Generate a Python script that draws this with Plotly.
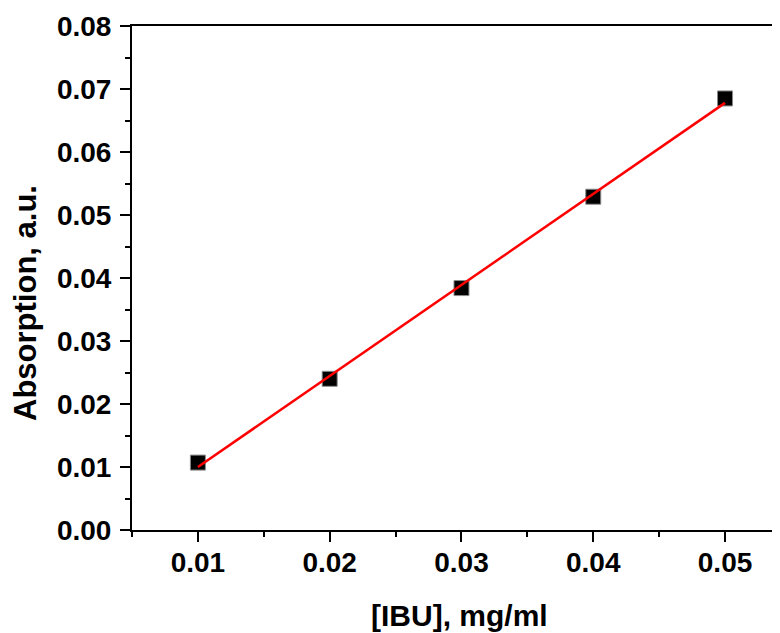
import numpy as np
import plotly.graph_objects as go

# Data
conc = [0.01, 0.02, 0.03, 0.04, 0.05]              # [IBU], mg/ml
absorb = [0.0107, 0.0240, 0.0384, 0.0529, 0.0685]  # Absorption, a.u.

x_title = "[IBU], mg/ml"
y_title = "Absorption, a.u."

# linear fit line through the measured points
slope, intercept = np.polyfit(conc, absorb, 1)
fit_x = [conc[0], conc[-1]]
fit_y = [slope * v + intercept for v in fit_x]

FONT = "Liberation Sans, Arial, sans-serif"

fig = go.Figure()
fig.add_trace(go.Scatter(
    x=conc, y=absorb, mode="markers",
    marker=dict(symbol="square", size=15, color="black",
                line=dict(color="#8a8a8a", width=1)),
    showlegend=False))
fig.add_trace(go.Scatter(
    x=fit_x, y=fit_y, mode="lines",
    line=dict(color="#ff0000", width=2.5),
    showlegend=False))

axis_common = dict(
    showgrid=False, zeroline=False,
    showline=True, linecolor="black", linewidth=2,
    ticks="outside", ticklen=10, tickwidth=2, tickcolor="black",
    tickfont=dict(family=FONT, size=28, color="black", weight="bold"),
)

fig.update_xaxes(
    range=[0.005, 0.05417], tick0=0, dtick=0.01, tickformat=".2f",
    mirror=True,
    minor=dict(tick0=0, dtick=0.005, ticks="outside", ticklen=5,
               tickwidth=2, tickcolor="black"),
    ticklabelstandoff=-4,
    **axis_common)
fig.update_yaxes(
    range=[0, 0.08], tick0=0, dtick=0.01, tickformat=".2f",
    minor=dict(tick0=0, dtick=0.005, ticks="outside", ticklen=5,
               tickwidth=2, tickcolor="black"),
    ticklabelstandoff=3,
    **axis_common)

fig.add_annotation(
    text=x_title, xref="paper", yref="paper",
    x=0.506, y=-0.1706, xanchor="center", yanchor="middle",
    showarrow=False,
    font=dict(family=FONT, size=30, color="black", weight="bold"))
fig.add_annotation(
    text=y_title, xref="paper", yref="paper",
    x=-0.1636, y=0.4504, xanchor="center", yanchor="middle",
    textangle=-90, showarrow=False,
    font=dict(family=FONT, size=31, color="black", weight="bold"))

# the page body adds an 8 px offset, so the figure is 8 px smaller
fig.update_layout(
    width=772, height=625,
    margin=dict(l=124, r=0, t=18, b=103),
    paper_bgcolor="white", plot_bgcolor="white",
)

fig.write_html("out.html")
